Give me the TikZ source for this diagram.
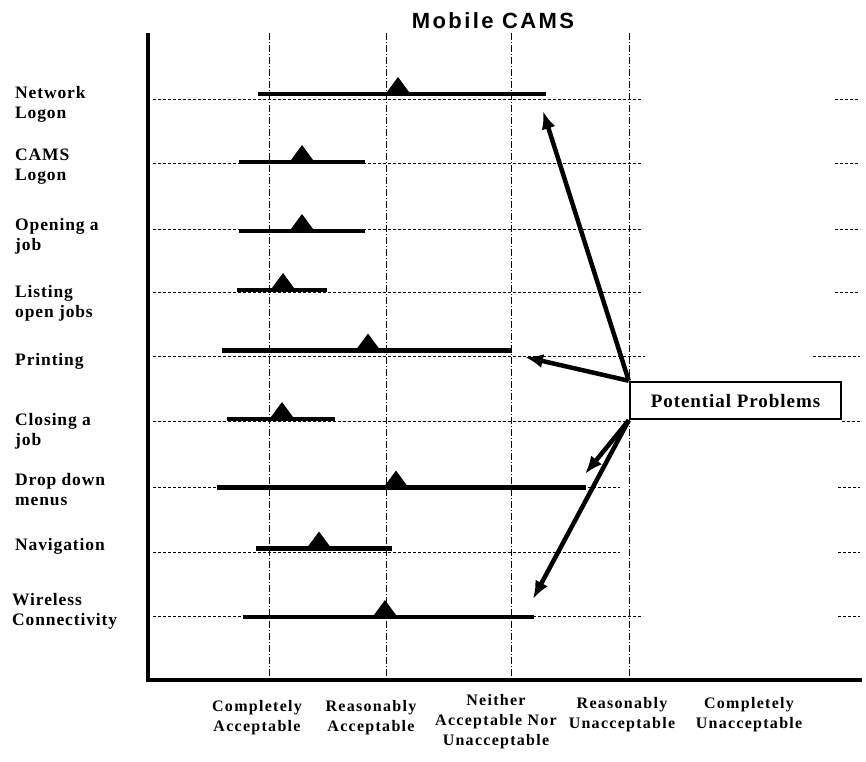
\documentclass[tikz,border=0pt]{standalone}
\usepackage{fontspec}
\setmainfont{Liberation Serif}
\newfontfamily\rowfont[LetterSpace=5]{Liberation Serif}
\newfontfamily\axisfont[LetterSpace=8]{Liberation Serif}
\newfontfamily\titlefont[LetterSpace=11]{Liberation Sans}
\usepackage{tikz}
\usetikzlibrary{arrows.meta}

\begin{document}
\begin{tikzpicture}[x=1pt, y=-1pt,
    rowlabel/.style={anchor=base west, align=left, inner sep=0pt, font=\rowfont\bfseries\fontsize{17.5}{20}\selectfont},
    scalelabel/.style={anchor=base, align=center, inner sep=0pt, font=\axisfont\bfseries\fontsize{16}{20}\selectfont},
    gridline/.style={line width=0.7pt, dash pattern=on 7pt off 2pt on 1pt off 2pt},
    rowline/.style={line width=0.6pt, densely dashed},
    bar/.style={line width=4.5pt},
    marker/.pic={\fill (-12.5, 0) -- (0, -17) -- (12.5, 0) -- cycle;},
    problem/.style={line width=4.5pt, -{Latex[length=18pt, width=14pt]}}]

    \useasboundingbox (0, 0) rectangle (866, 761);

    \node[anchor=base, inner sep=0pt, font=\titlefont\bfseries\fontsize{22}{24}\selectfont] (title) at (493, 28) {Mobile CAMS};

    % scale lines
    \draw[gridline] (269, 33) -- (269, 680);
    \draw[gridline] (386, 33) -- (386, 680);
    \draw[gridline] (511, 33) -- (511, 680);
    \draw[gridline] (629, 33) -- (629, 680);

    % row lines
    \draw[rowline] (153, 99) -- (642, 99) (835, 99) -- (860, 99);
    \draw[rowline] (153, 163) -- (642, 163) (835, 163) -- (860, 163);
    \draw[rowline] (153, 229) -- (642, 229) (835, 229) -- (860, 229);
    \draw[rowline] (153, 292) -- (642, 292) (835, 292) -- (860, 292);
    \draw[rowline] (153, 356) -- (645, 356) (813, 356) -- (860, 356);
    \draw[rowline] (153, 421) -- (630, 421) (842, 421) -- (860, 421);
    \draw[rowline] (153, 487) -- (620, 487) (838, 487) -- (860, 487);
    \draw[rowline] (153, 552) -- (620, 552) (838, 552) -- (860, 552);
    \draw[rowline] (153, 616) -- (643, 616) (838, 616) -- (860, 616);

    % axes
    \draw[line width=3.5pt] (148, 33) -- (148, 680) -- (862, 680);

    % rows
    \node[rowlabel] (netlogon) at (15, 118) {Network\\Logon};
    \draw[bar] (258, 94) -- (546, 94);
    \pic at (398, 94) {marker};

    \node[rowlabel] (camslogon) at (15, 180) {CAMS\\Logon};
    \draw[bar] (239, 162) -- (365, 162);
    \pic at (302, 162) {marker};

    \node[rowlabel] (openjob) at (15, 250) {Opening a\\job};
    \draw[bar] (239, 231) -- (365, 231);
    \pic at (302, 231) {marker};

    \node[rowlabel] (listjobs) at (15, 317) {Listing\\open jobs};
    \draw[bar] (237, 290) -- (327, 290);
    \pic at (283, 290) {marker};

    \node[rowlabel] (printing) at (15, 365) {Printing};
    \draw[bar] (222, 350.5) -- (512, 350.5);
    \pic at (368, 350.5) {marker};

    \node[rowlabel] (closejob) at (15, 445) {Closing a\\job};
    \draw[bar] (227, 419) -- (335, 419);
    \pic at (282, 419) {marker};

    \node[rowlabel] (dropdown) at (15, 505) {Drop down\\menus};
    \draw[bar] (217, 487.5) -- (586, 487.5);
    \pic at (396, 487.5) {marker};

    \node[rowlabel] (navigation) at (15, 550) {Navigation};
    \draw[bar] (256, 548.5) -- (392, 548.5);
    \pic at (319, 548.5) {marker};

    \node[rowlabel] (wireless) at (12, 625) {Wireless\\Connectivity};
    \draw[bar] (243, 617) -- (534, 617);
    \pic at (385, 617) {marker};

    % scale labels
    \node[scalelabel] (compacc) at (257, 731.5) {Completely\\Acceptable};
    \node[scalelabel] (reasacc) at (371, 731.5) {Reasonably\\Acceptable};
    \node[scalelabel] (neither) at (496, 745) {Neither\\Acceptable Nor\\Unacceptable};
    \node[scalelabel] (reasunacc) at (622, 728) {Reasonably\\Unacceptable};
    \node[scalelabel] (compunacc) at (749, 728) {Completely\\Unacceptable};

    % problems
    \node[draw, line width=2.5pt, fill=white, minimum width=211pt, minimum height=37pt, inner sep=0pt,
        font=\rowfont\bfseries\fontsize{19}{20}\selectfont] (problems) at (735.5, 400.5) {Potential Problems};
    \coordinate (netend) at (543, 111);
    \coordinate (printend) at (525, 357);
    \coordinate (dropend) at (585, 474);
    \coordinate (wirelessend) at (533, 599);
    \draw[problem] (problems.north west) -- (netend);
    \draw[problem] (problems.north west) -- (printend);
    \draw[problem] (problems.south west) -- (dropend);
    \draw[problem] (problems.south west) -- (wirelessend);
\end{tikzpicture}
\end{document}
